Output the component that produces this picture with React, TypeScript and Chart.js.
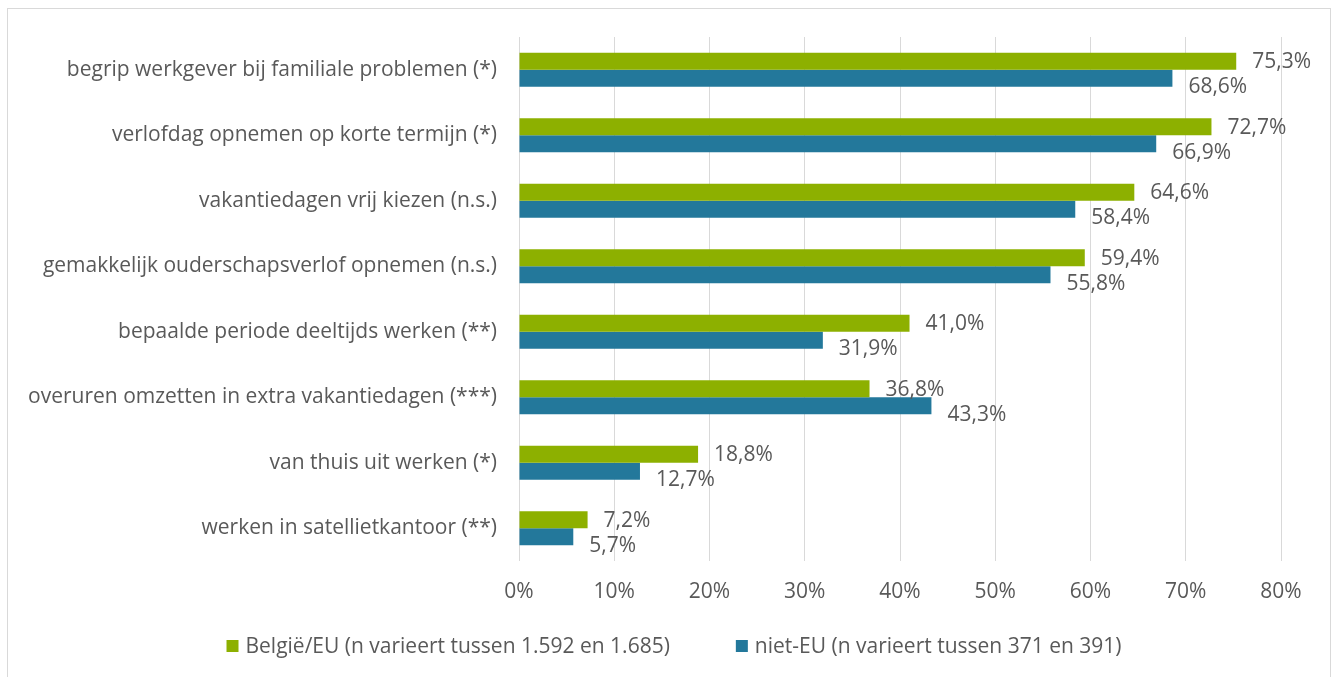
import { useEffect, useRef } from 'react';
import { Chart, registerables } from 'chart.js';

Chart.register(...registerables);

const categories = [
  'begrip werkgever bij familiale problemen (*)',
  'verlofdag opnemen op korte termijn (*)',
  'vakantiedagen vrij kiezen (n.s.)',
  'gemakkelijk ouderschapsverlof opnemen (n.s.)',
  'bepaalde periode deeltijds werken (**)',
  'overuren omzetten in extra vakantiedagen (***)',
  'van thuis uit werken (*)',
  'werken in satellietkantoor (**)',
];

const belgieEU = [75.3, 72.7, 64.6, 59.4, 41.0, 36.8, 18.8, 7.2];
const nietEU = [68.6, 66.9, 58.4, 55.8, 31.9, 43.3, 12.7, 5.7];

const seriesNames = [
  'België/EU (n varieert tussen 1.592 en 1.685)',
  'niet-EU (n varieert tussen 371 en 391)',
];
const seriesColors = ['#8db000', '#23789b'];

const xMin = 0;
const xMax = 80;
const xStep = 10;

const FONT = '"Open Sans"';
const FONT_SIZE = 21;
const TEXT = '#595959';

const fmt = (v: number) => v.toFixed(1).replace('.', ',') + '%';

const valueLabels = {
  id: 'valueLabels',
  afterDatasetsDraw(chart: any) {
    const ctx = chart.ctx;
    ctx.save();
    ctx.font = `${FONT_SIZE}px ${FONT}`;
    ctx.fillStyle = TEXT;
    ctx.textAlign = 'left';
    ctx.textBaseline = 'middle';
    chart.data.datasets.forEach((ds: any, di: number) => {
      const meta = chart.getDatasetMeta(di);
      meta.data.forEach((el: any, i: number) => {
        ctx.fillText(fmt(ds.data[i]), el.x + 16, el.y + (di === 0 ? 1 : 9));
      });
    });
    ctx.restore();
  },
};

const customLegend = {
  id: 'customLegend',
  afterDraw(chart: any) {
    const ctx = chart.ctx;
    ctx.save();
    ctx.font = `${FONT_SIZE}px ${FONT}`;
    ctx.textBaseline = 'middle';
    ctx.textAlign = 'left';
    const box = 12;
    const gapText = 7;
    const gapItem = 66;
    const cy = 637;
    const items = chart.data.datasets.map((ds: any) => ({
      text: ds.label,
      color: ds.backgroundColor,
      w: box + gapText + ctx.measureText(ds.label).width,
    }));
    const total = items.reduce((s: number, it: any) => s + it.w, 0) + gapItem * (items.length - 1);
    let x = 666 - total / 2;
    items.forEach((it: any) => {
      ctx.fillStyle = it.color;
      ctx.fillRect(x, cy - box / 2, box, box);
      ctx.fillStyle = TEXT;
      ctx.fillText(it.text, x + box + gapText, cy + 1);
      x += it.w + gapItem;
    });
    ctx.restore();
  },
};

export default function App() {
  const ref = useRef<HTMLCanvasElement | null>(null);

  useEffect(() => {
    if (!ref.current) return;
    const chart = new Chart(ref.current, {
      type: 'bar',
      data: {
        labels: categories,
        datasets: [
          {
            label: seriesNames[0],
            data: belgieEU,
            backgroundColor: seriesColors[0],
            barPercentage: 1,
            categoryPercentage: 0.52,
          },
          {
            label: seriesNames[1],
            data: nietEU,
            backgroundColor: seriesColors[1],
            barPercentage: 1,
            categoryPercentage: 0.52,
          },
        ],
      },
      options: {
        indexAxis: 'y',
        animation: false,
        responsive: true,
        maintainAspectRatio: false,
        layout: { padding: { top: 28, right: 49, bottom: 106, left: 0 } },
        plugins: {
          legend: { display: false },
          tooltip: { enabled: false },
        },
        scales: {
          x: {
            min: xMin,
            max: xMax,
            grid: { color: '#d9d9d9', lineWidth: 1, drawTicks: false },
            border: { display: false },
            ticks: {
              stepSize: xStep,
              padding: 18,
              color: TEXT,
              font: { family: FONT, size: FONT_SIZE },
              callback: (v: any) => v + '%',
            },
            afterFit: (s: any) => {
              s.height = 40;
            },
          },
          y: {
            grid: { display: false, drawTicks: false },
            border: { display: false },
            ticks: {
              autoSkip: false,
              padding: 22,
              color: TEXT,
              font: { family: FONT, size: FONT_SIZE },
            },
            afterFit: (s: any) => {
              s.width = 511;
              s.paddingTop = 0;
              s.paddingBottom = 0;
            },
          },
        },
      },
      plugins: [valueLabels, customLegend],
    });
    return () => chart.destroy();
  }, []);

  return (
    <div
      style={{
        position: 'fixed',
        left: 7,
        top: 8,
        width: 1322,
        height: 698,
        border: '1px solid #d9d9d9',
        background: '#fff',
      }}
    >
      <div style={{ position: 'relative', width: 1322, height: 698 }}>
        <canvas ref={ref} />
      </div>
    </div>
  );
}
